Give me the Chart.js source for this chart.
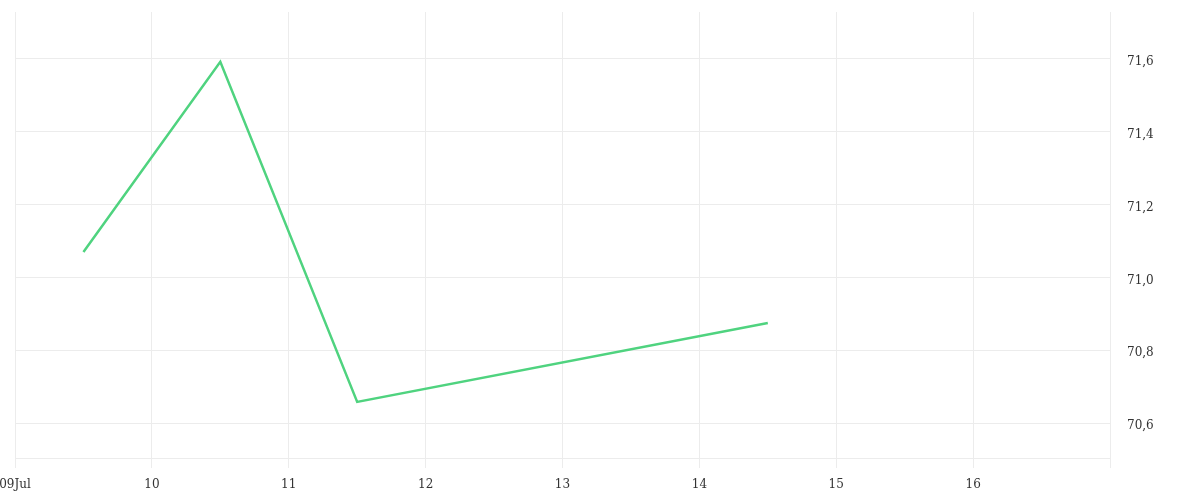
<!DOCTYPE html>
<html>
<head>
<meta charset="utf-8">
<script src="https://cdn.jsdelivr.net/npm/chart.js@4/dist/chart.umd.min.js"></script>
<style>
    html, body { margin: 0; padding: 0; background: #fff; }
    #wrap { width: 1200px; height: 500px; position: relative; }
</style>
</head>
<body>
<div id="wrap"><canvas id="price-chart"></canvas></div>
<script>
// 日期（以天為單位，9 = 09Jul）
const days = [9.5, 10.5, 11.5, 14.5];
// 價格
const prices = [71.07, 71.592, 70.658, 70.875];
// x 軸範圍
const dayMin = 9;
const dayMax = 17;
// y 軸範圍
const priceMin = 70.504;
const priceMax = 71.729;

const gridColor = '#ececec';
const textColor = '#333333';
const lineColor = '#4fd37f';

const ctx = document.getElementById('price-chart').getContext('2d');

new Chart(ctx, {
    type: 'line',
    data: {
        datasets: [{
            data: days.map((d, i) => ({ x: d, y: prices[i] })),
            borderColor: lineColor,
            borderWidth: 2.5,
            pointRadius: 0,
            tension: 0,
            fill: false
        }]
    },
    options: {
        responsive: true,
        maintainAspectRatio: false,
        animation: false,
        layout: { padding: { top: 12, left: 0, right: 0, bottom: 0 } },
        plugins: {
            legend: { display: false },
            tooltip: { enabled: false }
        },
        scales: {
            x: {
                type: 'linear',
                min: dayMin,
                max: dayMax,
                afterFit: function(scale) {
                    scale.height = 42;
                    scale.paddingLeft = 15;
                    scale.paddingRight = 0;
                },
                grid: { color: gridColor, tickLength: 10, drawTicks: true },
                border: { color: gridColor },
                ticks: {
                    stepSize: 1,
                    maxRotation: 0,
                    padding: 10,
                    color: textColor,
                    font: { family: 'DejaVu Serif', size: 12 },
                    callback: function(value) {
                        if (value === dayMax) return '';
                        if (value === dayMin) return '09Jul';
                        return String(value);
                    }
                }
            },
            y: {
                position: 'right',
                min: priceMin,
                max: priceMax,
                afterFit: function(scale) {
                    scale.width = 90;
                    scale.paddingTop = 0;
                    scale.paddingBottom = 0;
                },
                grid: { color: gridColor, drawTicks: false },
                border: { color: gridColor },
                ticks: {
                    stepSize: 0.2,
                    includeBounds: false,
                    padding: 17,
                    labelOffset: 3,
                    color: textColor,
                    font: { family: 'DejaVu Serif', size: 12 },
                    callback: function(value) {
                        return value.toFixed(1).replace('.', ',');
                    }
                }
            }
        }
    }
});
</script>
</body>
</html>
